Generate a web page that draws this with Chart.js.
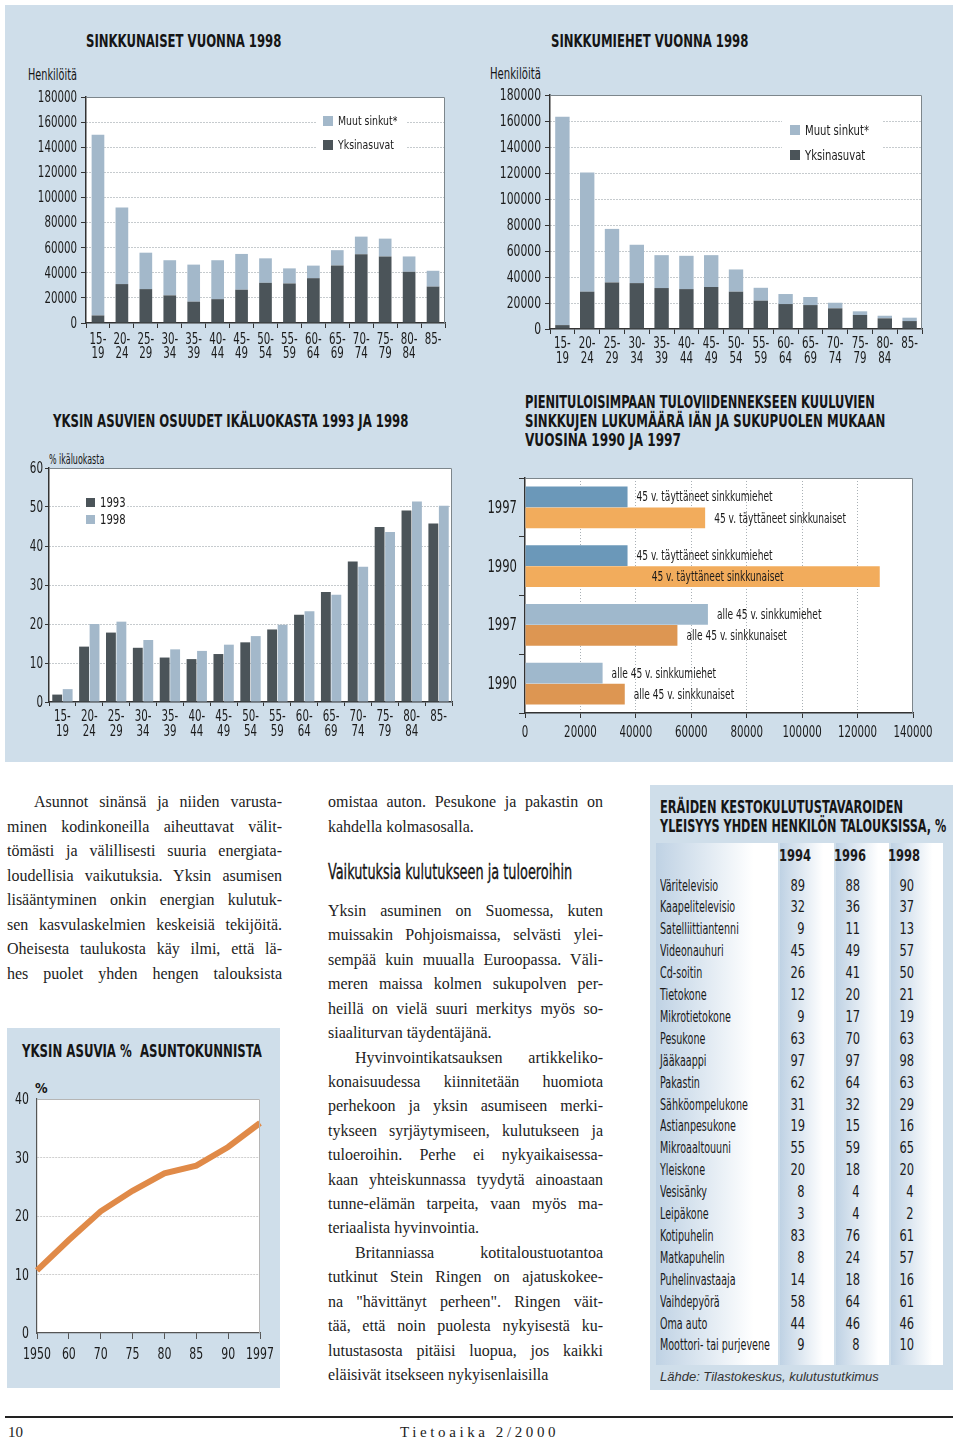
<!DOCTYPE html>
<html lang="fi">
<head>
<meta charset="utf-8">
<title>Sinkut ja yksin asuminen</title>
<script src="https://cdn.jsdelivr.net/npm/chart.js@4.4.1/dist/chart.umd.min.js"></script>
<style>
  html, body { margin: 0; padding: 0; background: #fff; }
  body { width: 960px; height: 1439px; position: relative; overflow: hidden; }
  .panel { position: absolute; background: #cfdeea; }
  .hd { position: absolute; white-space: nowrap; line-height: 1; color: #151515;
        font-family: "Liberation Sans Narrow", "DejaVu Sans Condensed", sans-serif; font-weight: bold;
        transform-origin: 0 50%; }
  .hd.n { font-weight: normal; }
  .hd.m { font-weight: normal; -webkit-text-stroke: 0.35px #151515; }
  canvas { position: absolute; }
  .txt { position: absolute; font-family: "Liberation Serif", "DejaVu Serif", serif; font-size: 16px; color: #222; }
  .txt div { white-space: nowrap; text-align: justify; text-align-last: justify; }
  .txt div.l { text-align-last: left; }
  .txt div.i { padding-left: 27px; }
  .stripe { position: absolute; top: 843px; height: 522px; background: linear-gradient(to right, #bfd2e4 0%, #ffffff 80%); }
  .cell { position: absolute; white-space: nowrap; line-height: 1;
          font-family: "Liberation Sans Narrow", "DejaVu Sans Condensed", sans-serif; font-size: 14px; color: #1a1a1a; }
</style>
</head>
<body>

<div class="panel" style="left:5px; top:5px; width:948px; height:757px;"></div>
<div class="panel" style="left:7px; top:1028px; width:273px; height:360px;"></div>
<div class="panel" style="left:650px; top:785px; width:303px; height:605px;"></div>

<!-- otsikot -->
<div class="hd" style="left:86px; top:32px; font-size:18px;" data-w="195">SINKKUNAISET VUONNA 1998</div>
<div class="hd" style="left:551px; top:32px; font-size:18px;" data-w="197">SINKKUMIEHET VUONNA 1998</div>
<div class="hd n" style="left:28px; top:68px; font-size:15px;" data-w="49">Henkilöitä</div>
<div class="hd n" style="left:490px; top:67px; font-size:15px;" data-w="51">Henkilöitä</div>

<div class="hd" style="left:53px; top:412px; font-size:18px;" data-w="355">YKSIN ASUVIEN OSUUDET IKÄLUOKASTA 1993 JA 1998</div>
<div class="hd n" style="left:49px; top:452px; font-size:14px;" data-w="55">% ikäluokasta</div>

<div class="hd" style="left:525px; top:393px; font-size:18px;" data-w="350">PIENITULOISIMPAAN TULOVIIDENNEKSEEN KUULUVIEN</div>
<div class="hd" style="left:525px; top:412px; font-size:18px;" data-w="360">SINKKUJEN LUKUMÄÄRÄ IÄN JA SUKUPUOLEN MUKAAN</div>
<div class="hd" style="left:525px; top:431px; font-size:18px;" data-w="156">VUOSINA 1990 JA 1997</div>

<div class="hd" style="left:22px; top:1042px; font-size:18px;" data-w="240">YKSIN ASUVIA %&nbsp; ASUNTOKUNNISTA</div>
<div class="hd" style="left:35px; top:1081px; font-size:14px;">%</div>

<div class="hd" style="left:660px; top:798px; font-size:18px;" data-w="243">ERÄIDEN KESTOKULUTUSTAVAROIDEN</div>
<div class="hd" style="left:660px; top:817px; font-size:18px;" data-w="286">YLEISYYS YHDEN HENKILÖN TALOUKSISSA, %</div>

<!-- kaaviot -->
<canvas id="cWomen"></canvas>
<canvas id="cMen"></canvas>
<canvas id="cShare"></canvas>
<canvas id="cLowIncome"></canvas>
<canvas id="cTrend"></canvas>

<!-- leipäteksti -->
<div class="txt" style="left:7px; top:790px; width:275px; line-height:24.5px;">
  <div class="i">Asunnot sinänsä ja niiden varusta-</div>
  <div>minen kodinkoneilla aiheuttavat välit-</div>
  <div>tömästi ja välillisesti suuria energiata-</div>
  <div>loudellisia vaikutuksia. Yksin asumisen</div>
  <div>lisääntyminen onkin energian kulutuk-</div>
  <div>sen kasvulaskelmien keskeisiä tekijöitä.</div>
  <div>Oheisesta taulukosta käy ilmi, että lä-</div>
  <div>hes puolet yhden hengen talouksista</div>
</div>

<div class="txt" style="left:328px; top:790px; width:275px; line-height:24.5px;">
  <div>omistaa auton. Pesukone ja pakastin on</div>
  <div class="l">kahdella kolmasosalla.</div>
</div>

<div class="hd m" style="left:328px; top:861px; font-size:22px;" data-w="244">Vaikutuksia kulutukseen ja tuloeroihin</div>

<div class="txt" style="left:328px; top:899px; width:275px; line-height:24.42px;">
  <div>Yksin asuminen on Suomessa, kuten</div>
  <div>muissakin Pohjoismaissa, selvästi ylei-</div>
  <div>sempää kuin muualla Euroopassa. Väli-</div>
  <div>meren maissa kolmen sukupolven per-</div>
  <div>heillä on vielä suuri merkitys myös so-</div>
  <div class="l">siaaliturvan täydentäjänä.</div>
  <div class="i">Hyvinvointikatsauksen artikkeliko-</div>
  <div>konaisuudessa kiinnitetään huomiota</div>
  <div>perhekoon ja yksin asumiseen merki-</div>
  <div>tykseen syrjäytymiseen, kulutukseen ja</div>
  <div>tuloeroihin. Perhe ei nykyaikaisessa-</div>
  <div>kaan yhteiskunnassa tyydytä ainoastaan</div>
  <div>tunne-elämän tarpeita, vaan myös ma-</div>
  <div class="l">teriaalista hyvinvointia.</div>
  <div class="i">Britanniassa kotitaloustuotantoa</div>
  <div>tutkinut Stein Ringen on ajatuskokee-</div>
  <div>na "hävittänyt perheen". Ringen väit-</div>
  <div>tää, että noin puolesta nykyisestä ku-</div>
  <div>lutustasosta pitäisi luopua, jos kaikki</div>
  <div class="l">eläisivät itsekseen nykyisenlaisilla</div>
</div>

<!-- taulukko -->
<div class="stripe" style="left:656px; width:122px;"></div>
<div class="stripe" style="left:780px; width:54px;"></div>
<div class="stripe" style="left:836px; width:53px;"></div>
<div class="stripe" style="left:891px; width:52px;"></div>
<div id="table"></div>
<div style="position:absolute; left:660px; top:1369px; font-family:'Liberation Sans', Arial, sans-serif; font-style:italic; font-size:13px; color:#333; white-space:nowrap;">Lähde: Tilastokeskus, kulutustutkimus</div>

<!-- alatunniste -->
<div style="position:absolute; left:5px; top:1416px; width:948px; height:2px; background:#222;"></div>
<div style="position:absolute; left:8px; top:1424px; font-family:'Liberation Serif', serif; font-size:15px; color:#222;">10</div>
<div style="position:absolute; left:400px; top:1424px; font-family:'Liberation Serif', serif; font-size:15px; letter-spacing:3.6px; color:#222;">Tietoaika 2/2000</div>

<script>
// ---- data ----
const ageGroups = [['15-', '19'], ['20-', '24'], ['25-', '29'], ['30-', '34'], ['35-', '39'], ['40-', '44'],
  ['45-', '49'], ['50-', '54'], ['55-', '59'], ['60-', '64'], ['65-', '69'], ['70-', '74'], ['75-', '79'],
  ['80-', '84'], ['85-', '']];

// sinkkunaiset 1998, henkilöitä
const womenAlone = [6000, 31000, 27000, 22000, 17000, 19000, 26500, 32000, 31500, 35700, 45800, 54800, 53000, 40800, 29000];
const womenOther = [144000, 61000, 29000, 28000, 29500, 31000, 28500, 19500, 12000, 10000, 12200, 14000, 14200, 12200, 12600];

// sinkkumiehet 1998, henkilöitä
const menAlone = [3000, 28700, 35800, 35300, 31500, 30700, 32300, 28700, 21800, 19200, 18400, 15900, 10800, 8200, 6100];
const menOther = [160300, 91600, 41200, 29500, 25300, 25600, 24500, 17100, 9900, 7700, 6200, 4300, 2800, 2000, 2600];

// yksin asuvien osuus ikäluokasta, %
const share1993 = [1.9, 14.2, 17.8, 13.9, 11.4, 11.0, 12.3, 15.3, 18.6, 22.4, 28.2, 36.0, 44.9, 49.1, 45.8];
const share1998 = [3.3, 20.0, 20.6, 15.9, 13.5, 13.1, 14.7, 16.9, 19.8, 23.3, 27.5, 34.7, 43.6, 51.4, 50.3];

// pienituloisimpaan viidennekseen kuuluvat sinkut
const lowIncomeYears = ['1997', '1990', '1997', '1990'];
const lowIncomeMen = [37000, 37000, 66000, 28000];
const lowIncomeWomen = [65000, 128000, 55000, 36000];
const lowIncomeMenText = ['45 v. täyttäneet sinkkumiehet', '45 v. täyttäneet sinkkumiehet', 'alle 45 v. sinkkumiehet', 'alle 45 v. sinkkumiehet'];
const lowIncomeWomenText = ['45 v. täyttäneet sinkkunaiset', '45 v. täyttäneet sinkkunaiset', 'alle 45 v. sinkkunaiset', 'alle 45 v. sinkkunaiset'];

// yksin asuvia % asuntokunnista
const trendYears = ['1950', '60', '70', '75', '80', '85', '90', '1997'];
const trendPct = [10.7, 15.9, 20.8, 24.3, 27.3, 28.6, 31.8, 35.9];

// kestokulutustavarat yhden hengen talouksissa, %
const goods = ['Väritelevisio', 'Kaapelitelevisio', 'Satelliittiantenni', 'Videonauhuri', 'Cd-soitin', 'Tietokone',
  'Mikrotietokone', 'Pesukone', 'Jääkaappi', 'Pakastin', 'Sähköompelukone', 'Astianpesukone', 'Mikroaaltouuni',
  'Yleiskone', 'Vesisänky', 'Leipäkone', 'Kotipuhelin', 'Matkapuhelin', 'Puhelinvastaaja', 'Vaihdepyörä',
  'Oma auto', 'Moottori- tai purjevene'];
const tableYears = ['1994', '1996', '1998'];
const goods1994 = [89, 32, 9, 45, 26, 12, 9, 63, 97, 62, 31, 19, 55, 20, 8, 3, 83, 8, 14, 58, 44, 9];
const goods1996 = [88, 36, 11, 49, 41, 20, 17, 70, 97, 64, 32, 15, 59, 18, 4, 4, 76, 24, 18, 64, 46, 8];
const goods1998 = [90, 37, 13, 57, 50, 21, 19, 63, 98, 63, 29, 16, 65, 20, 4, 2, 61, 57, 16, 61, 46, 10];

// ---- styles ----
const NARROW = '"Liberation Sans Narrow", "DejaVu Sans Condensed", sans-serif';
const DARK = '#4b5459';
const LIGHT = '#a3b8ca';
const GRID = '#8d969c';
const AXIS = '#333';
const SQUEEZE = 0.76; // condensed look for canvas text

Chart.defaults.font.family = NARROW;
Chart.defaults.font.size = 14;
Chart.defaults.color = '#1a1a1a';
Chart.defaults.animation = false;
Chart.defaults.plugins.legend.display = false;
Chart.defaults.plugins.tooltip.enabled = false;

function squeezedText(ctx, text, x, y, align, sx) {
  ctx.save();
  ctx.translate(x, y);
  ctx.scale(sx, 1);
  ctx.textAlign = align;
  ctx.fillText(text, 0, 0);
  ctx.restore();
}

// white plot area + light frame on top and right
const plotFrame = {
  id: 'plotFrame',
  beforeDraw(chart) {
    const { ctx, chartArea: a } = chart;
    ctx.save();
    ctx.fillStyle = '#fff';
    ctx.fillRect(a.left, a.top, a.right - a.left, a.bottom - a.top);
    ctx.restore();
  },
  afterDraw(chart, args, o) {
    const { ctx, chartArea: a } = chart;
    ctx.save();
    ctx.strokeStyle = o.color || '#7d868c';
    ctx.lineWidth = 1;
    ctx.beginPath();
    ctx.moveTo(a.left, a.top + 0.5);
    ctx.lineTo(a.right - 0.5, a.top + 0.5);
    ctx.lineTo(a.right - 0.5, a.bottom);
    ctx.stroke();
    ctx.restore();
  }
};

// tick labels drawn narrow, at the positions the scales give
const narrowTicks = {
  id: 'narrowTicks',
  afterDraw(chart, args, o) {
    const { ctx, chartArea: a } = chart;
    ['x', 'y'].forEach(id => {
      const cfg = o[id];
      const sc = chart.scales[id];
      if (!cfg || !sc) return;
      ctx.save();
      ctx.font = `${cfg.size}px ${NARROW}`;
      ctx.fillStyle = '#1a1a1a';
      ctx.textBaseline = 'middle';
      sc.ticks.forEach((tk, i) => {
        const p = sc.getPixelForTick(i);
        [].concat(tk.label).forEach((ln, k) => {
          if (!ln) return;
          if (sc.isHorizontal()) {
            squeezedText(ctx, ln, p, a.bottom + cfg.pad + k * (cfg.step || 0), 'center', cfg.sx || SQUEEZE);
          } else {
            squeezedText(ctx, ln, a.left - cfg.pad, p + 1, 'right', cfg.sx || SQUEEZE);
          }
        });
      });
      ctx.restore();
    });
  }
};

// legend box drawn inside the plot
const boxLegend = {
  id: 'boxLegend',
  afterDraw(chart, args, o) {
    if (!o.order) return;
    const { ctx, chartArea: a } = chart;
    const x = a.left + o.x, y = a.top + o.y;
    ctx.save();
    if (o.bg) {
      ctx.fillStyle = '#fff';
      ctx.fillRect(a.left + o.bg[0], a.top + o.bg[1], o.bg[2], o.bg[3]);
    }
    ctx.font = `${o.size}px ${NARROW}`;
    ctx.textBaseline = 'middle';
    o.order.forEach((di, k) => {
      const ds = chart.data.datasets[di];
      ctx.fillStyle = ds.backgroundColor;
      ctx.fillRect(x, y + k * o.gap, o.box, o.box);
      ctx.fillStyle = '#1a1a1a';
      squeezedText(ctx, ds.label, x + o.box + 5, y + k * o.gap + o.box / 2 + 1, 'left', 0.8);
    });
    ctx.restore();
  }
};

// texts next to the horizontal bars
const barTexts = {
  id: 'barTexts',
  afterDatasetsDraw(chart) {
    const { ctx, chartArea: a } = chart;
    ctx.save();
    ctx.font = `14px ${NARROW}`;
    ctx.fillStyle = '#1a1a1a';
    ctx.textBaseline = 'middle';
    const sx = 0.72;
    chart.data.datasets.forEach((ds, di) => {
      if (!ds.texts) return;
      chart.getDatasetMeta(di).data.forEach((bar, i) => {
        const t = ds.texts[i];
        const w = ctx.measureText(t).width * sx;
        let x = bar.x + 9;
        if (x + w > a.right - 4) x = (bar.base + bar.x) / 2 - w / 2 + 15;
        squeezedText(ctx, t, x, bar.y + 1, 'left', sx);
      });
    });
    ctx.restore();
  }
};

Chart.register(plotFrame, narrowTicks, boxLegend, barTexts);

// place a canvas so that the plot area lands on the wanted page rectangle
function setup(id, box, plot) {
  const cv = document.getElementById(id);
  cv.width = box.width;
  cv.height = box.height;
  cv.style.left = box.left + 'px';
  cv.style.top = box.top + 'px';
  return {
    padding: { left: 0, bottom: 0, top: plot.top - box.top, right: box.left + box.width - plot.right },
    xHeight: box.top + box.height - plot.bottom,
    yWidth: plot.left - box.left,
    cv
  };
}

function hideEnds(min, max, col) {
  return c => (c.tick && (c.tick.value === min || c.tick.value === max)) ? 'rgba(0,0,0,0)' : (col || GRID);
}

function stackedChart(id, box, plot, alone, other, barPct, legend, tickCfg) {
  const s = setup(id, box, plot);
  return new Chart(s.cv, {
    type: 'bar',
    data: {
      labels: ageGroups,
      datasets: [
        { label: 'Yksinasuvat', data: alone, backgroundColor: DARK },
        { label: 'Muut sinkut*', data: other, backgroundColor: LIGHT }
      ]
    },
    options: {
      responsive: false,
      layout: { padding: s.padding },
      categoryPercentage: barPct,
      barPercentage: 1,
      scales: {
        x: {
          stacked: true,
          afterFit: sc => { sc.height = s.xHeight; },
          grid: { drawOnChartArea: false, tickLength: 5, tickColor: AXIS },
          border: { color: AXIS, width: 1.5 },
          ticks: { display: false, autoSkip: false }
        },
        y: {
          stacked: true, min: 0, max: 180000,
          afterFit: sc => { sc.width = s.yWidth; },
          grid: { color: hideEnds(0, 180000), tickLength: 5, tickColor: AXIS },
          border: { color: AXIS, width: 1.5, dash: [1, 2] },
          ticks: { display: false, stepSize: 20000, callback: v => String(v) }
        }
      },
      plugins: { boxLegend: legend, narrowTicks: tickCfg }
    }
  });
}

stackedChart('cWomen',
  { left: 20, top: 82, width: 440, height: 290 },
  { left: 86, top: 97, right: 445, bottom: 323 },
  womenAlone, womenOther, 0.53,
  { order: [1, 0], x: 237, y: 19, gap: 24, box: 10, size: 13, bg: [230, 11, 90, 50] },
  { x: { size: 15, pad: 17, step: 14 }, y: { size: 15, pad: 9 } });

stackedChart('cMen',
  { left: 480, top: 80, width: 465, height: 295 },
  { left: 550, top: 95, right: 922, bottom: 329 },
  menAlone, menOther, 0.58,
  { order: [1, 0], x: 240, y: 30, gap: 25, box: 10, size: 14, bg: [232, 20, 101, 52] },
  { x: { size: 15, pad: 15, step: 15 }, y: { size: 15, pad: 9, sx: 0.8 } });

// osuudet ikäluokasta
(function () {
  const s = setup('cShare', { left: 15, top: 455, width: 455, height: 290 }, { left: 49, top: 468, right: 452, bottom: 702 });
  new Chart(s.cv, {
    type: 'bar',
    data: {
      labels: ageGroups,
      datasets: [
        { label: '1993', data: share1993, backgroundColor: DARK },
        { label: '1998', data: share1998, backgroundColor: LIGHT }
      ]
    },
    options: {
      responsive: false,
      layout: { padding: s.padding },
      categoryPercentage: 0.78,
      barPercentage: 0.94,
      scales: {
        x: {
          afterFit: sc => { sc.height = s.xHeight; },
          grid: { drawOnChartArea: false, tickLength: 4, tickColor: AXIS },
          border: { color: AXIS, width: 1.5 },
          ticks: { display: false, autoSkip: false }
        },
        y: {
          min: 0, max: 60,
          afterFit: sc => { sc.width = s.yWidth; },
          grid: { color: hideEnds(0, 60), tickLength: 4, tickColor: AXIS },
          border: { color: AXIS, width: 1.5, dash: [1, 2] },
          ticks: { display: false, stepSize: 10 }
        }
      },
      plugins: {
        boxLegend: { order: [0, 1], x: 37, y: 30, gap: 17, box: 9, size: 14, bg: [31, 24, 46, 34] },
        narrowTicks: { x: { size: 15, pad: 15, step: 15 }, y: { size: 16, pad: 6, sx: 0.72 } }
      }
    }
  });
})();

// pienituloisimmat sinkut
(function () {
  const s = setup('cLowIncome', { left: 480, top: 465, width: 470, height: 285 }, { left: 525, top: 478, right: 913, bottom: 713 });
  const menCol = lowIncomeYears.map((y, i) => i < 2 ? '#6b98b9' : '#9fb8cc');
  const womenCol = lowIncomeYears.map((y, i) => i < 2 ? '#f2ac5c' : '#dd9652');
  new Chart(s.cv, {
    type: 'bar',
    data: {
      labels: lowIncomeYears,
      datasets: [
        { label: 'sinkkumiehet', data: lowIncomeMen, backgroundColor: menCol, texts: lowIncomeMenText },
        { label: 'sinkkunaiset', data: lowIncomeWomen, backgroundColor: womenCol, texts: lowIncomeWomenText }
      ]
    },
    options: {
      indexAxis: 'y',
      responsive: false,
      layout: { padding: s.padding },
      categoryPercentage: 0.72,
      barPercentage: 0.98,
      scales: {
        x: {
          min: 0, max: 140000,
          afterFit: sc => { sc.height = s.xHeight; },
          grid: { color: hideEnds(0, 140000, '#a9b0b5'), tickLength: 5, tickColor: AXIS },
          border: { color: AXIS, width: 1.5, dash: [1, 2] },
          ticks: { display: false, stepSize: 20000, callback: v => String(v) }
        },
        y: {
          afterFit: sc => { sc.width = s.yWidth; },
          grid: { drawOnChartArea: false, tickLength: 6, tickColor: AXIS },
          border: { color: AXIS, width: 1.5 },
          ticks: { display: false }
        }
      },
      plugins: {
        narrowTicks: { x: { size: 15, pad: 20 }, y: { size: 17, pad: 8 } }
      }
    }
  });
})();

// yksin asuvia % asuntokunnista
(function () {
  const s = setup('cTrend', { left: 10, top: 1085, width: 265, height: 295 }, { left: 37, top: 1099, right: 260, bottom: 1333 });
  new Chart(s.cv, {
    type: 'line',
    data: {
      labels: trendYears,
      datasets: [{ label: '%', data: trendPct, borderColor: '#e08a48', borderWidth: 6, pointRadius: 0, tension: 0 }]
    },
    options: {
      responsive: false,
      layout: { padding: s.padding },
      scales: {
        x: {
          offset: false,
          afterFit: sc => { sc.height = s.xHeight; },
          grid: { drawOnChartArea: false, tickLength: 6, tickColor: '#555' },
          border: { color: '#555', width: 1.2 },
          ticks: { display: false, autoSkip: false }
        },
        y: {
          min: 0, max: 40,
          afterFit: sc => { sc.width = s.yWidth; },
          grid: { color: hideEnds(0, 40, '#cfcfcf'), drawTicks: false },
          border: { color: '#555', width: 1.2, dash: [2, 1] },
          ticks: { display: false, stepSize: 10 }
        }
      },
      plugins: {
        plotFrame: { color: '#b5b5b5' },
        narrowTicks: { x: { size: 16, pad: 22 }, y: { size: 16, pad: 8 } }
      }
    }
  });
})();

// ---- taulukko ----
(function () {
  const host = document.getElementById('table');
  const colRight = [811, 866, 920];
  const valRight = [805, 860, 914];
  const cols = [goods1994, goods1996, goods1998];
  const add = (html, style) => {
    const d = document.createElement('div');
    d.className = 'cell';
    d.style.cssText += style;
    d.innerHTML = html;
    host.appendChild(d);
    return d;
  };
  tableYears.forEach((y, j) => {
    add(y, `right:${960 - colRight[j]}px; top:${855 - 7}px; font-weight:bold; font-size:16px; transform-origin:100% 50%; transform:scaleX(0.8);`);
  });
  const labels = [];
  goods.forEach((g, i) => {
    const cy = 885 + i * 21.9;
    labels.push(add(g, `left:660px; top:${cy - 6.5}px; font-size:15px; transform-origin:0 50%;`));
    cols.forEach((c, j) => {
      add(String(c[i]), `right:${960 - valRight[j]}px; top:${cy - 6.5}px; font-size:15px; transform-origin:100% 50%; transform:scaleX(0.85);`);
    });
  });
  // condensed look: scale labels so the longest fits its printed width
  const k = 110 / labels[labels.length - 1].offsetWidth;
  labels.forEach(l => { l.style.transform = `scaleX(${k})`; });
})();

// fit headings to their printed widths
document.querySelectorAll('.hd[data-w]').forEach(el => {
  const w = +el.dataset.w;
  el.style.transform = `scaleX(${w / el.offsetWidth})`;
});
</script>
</body>
</html>
